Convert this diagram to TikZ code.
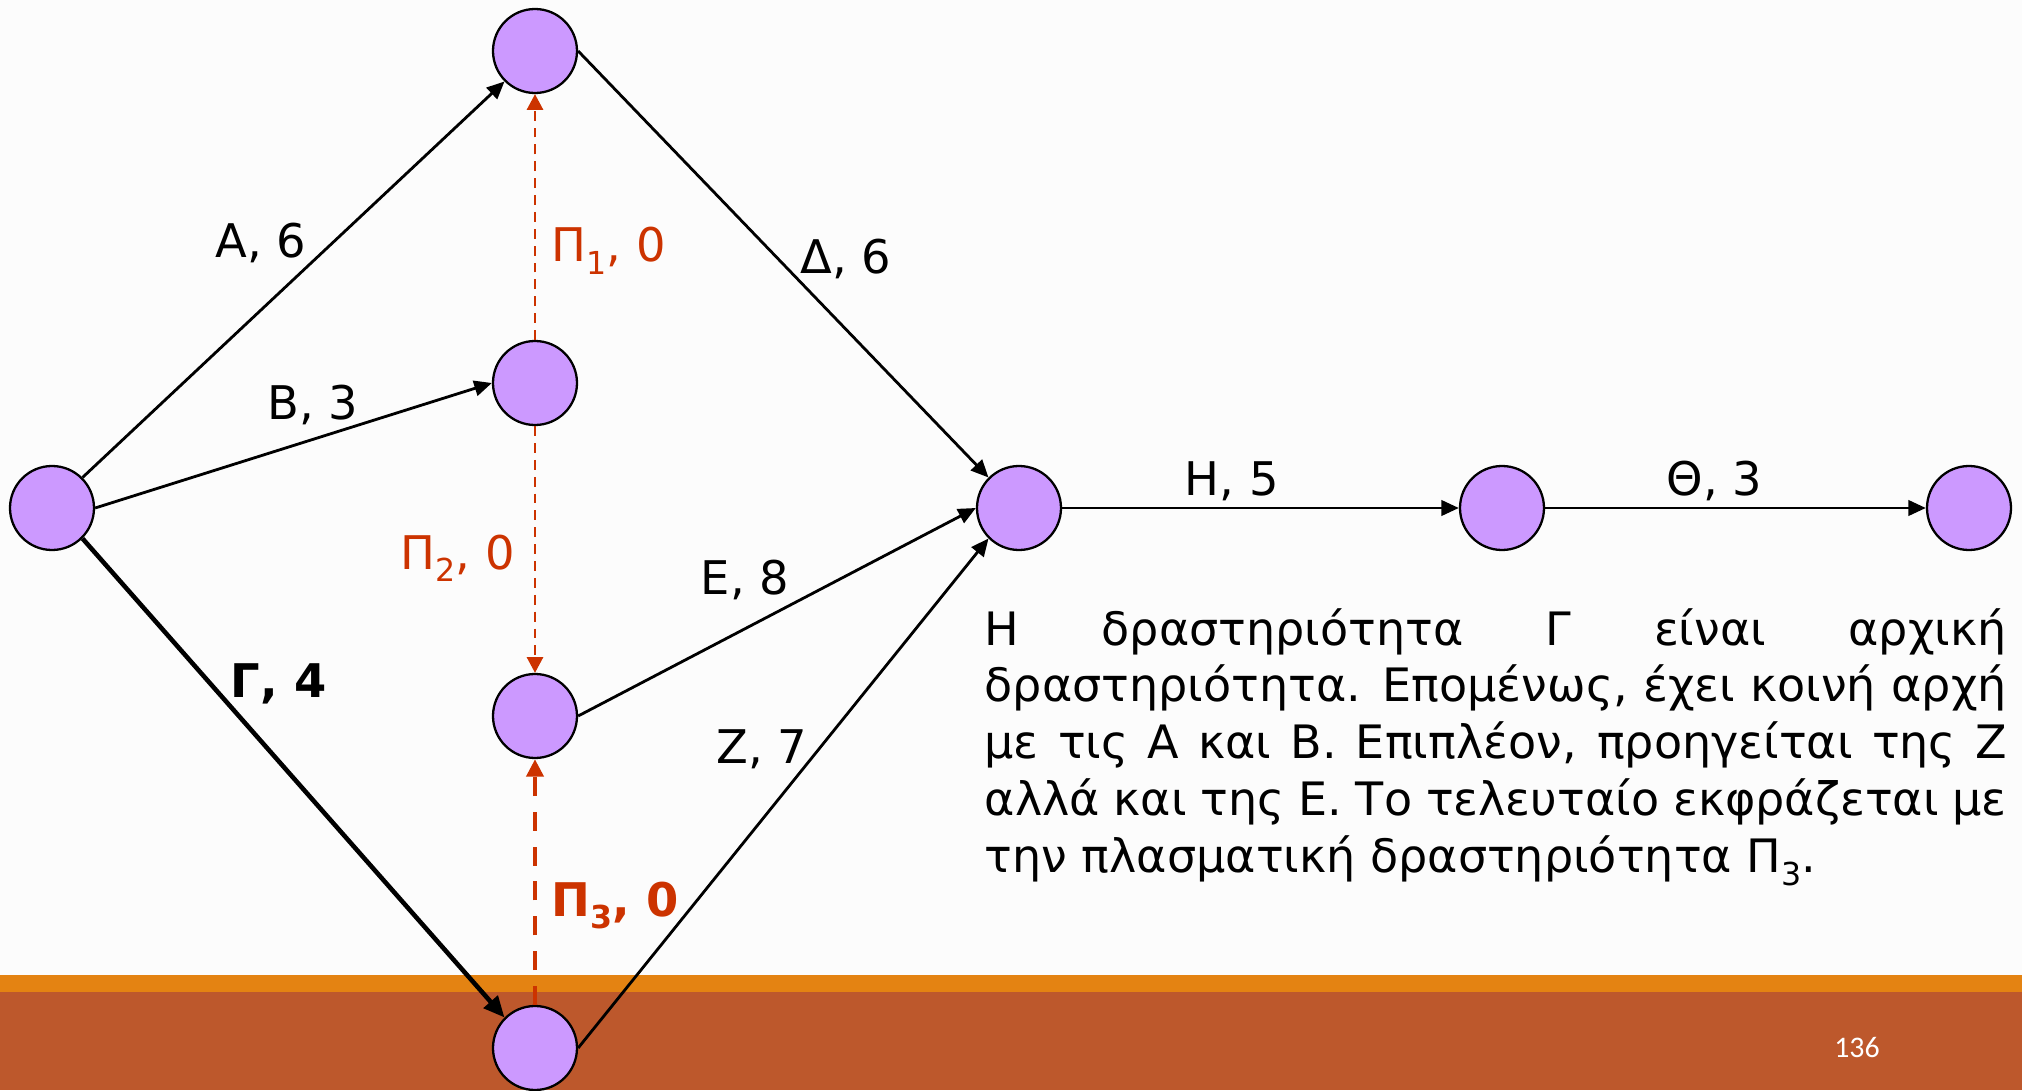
\documentclass[tikz,border=0pt]{standalone}
\usepackage{fontspec}
\setmainfont{DejaVu Sans}
\newfontfamily\pagefont{Carlito}
\usetikzlibrary{arrows.meta}
\definecolor{evfill}{HTML}{CC99FF}
\definecolor{dummyred}{HTML}{CC3300}
\definecolor{bandtop}{HTML}{E48312}
\definecolor{bandbot}{HTML}{BD582C}
\definecolor{slidebg}{HTML}{FCFCFC}
\newcommand\subtxt[1]{\raisebox{-3.5pt}{\fontsize{9}{9}\selectfont#1}}

\begin{document}
\begin{tikzpicture}[
  event/.style={circle, draw=black, line width=0.65pt, fill=evfill, minimum size=0.84cm, inner sep=0pt},
  act/.style={line width=0.8pt, -{Triangle[length=5pt,width=4.4pt]}},
  crit/.style={line width=1.3pt, -{Triangle[length=6pt,width=5.2pt]}},
  dummy/.style={draw=dummyred, line width=0.7pt, dash pattern=on 2.8pt off 2pt, -{Triangle[length=4.5pt,width=4.6pt]}},
  dummybold/.style={draw=dummyred, line width=1.3pt, dash pattern=on 5.4pt off 4.5pt, -{Triangle[length=5pt,width=4.8pt]}},
  lbl/.style={anchor=base west, inner sep=0pt, font=\fontsize{13.2}{15}\selectfont},
  lblbold/.style={lbl, font=\fontsize{13.2}{15}\selectfont\bfseries},
]
  \useasboundingbox (0,0) rectangle (20.22,10.90);
  \fill[slidebg] (0,0) rectangle (20.22,10.90);
  \fill[bandbot] (0,0) rectangle (20.22,0.98);
  \fill[bandtop] (0,0.98) rectangle (20.22,1.15);
  \node[text=white, font=\pagefont\fontsize{8.5}{10}\selectfont] (pgno) at (18.57,0.42) {136};

  \foreach \n/\x/\y in {ev1/0.52/5.82, ev2/5.35/10.39, ev3/5.35/7.07, ev4/5.35/3.74,
                        ev5/5.35/0.42, ev6/10.19/5.82, ev7/15.02/5.82, ev8/19.69/5.82}
    \node[event] (\n) at (\x,\y) {};

  \draw[act] (ev1.north east) -- (ev2.south west);
  \draw[act] (ev1.east) -- (ev3.west);
  \draw[crit] (ev1.south east) -- (ev5.north west);
  \draw[act] (ev2.east) -- (ev6.north west);
  \draw[act] (ev4.east) -- (ev6.west);
  \draw[act] (ev5.east) -- (ev6.south west);
  \draw[act] (ev6.east) -- (ev7.west);
  \draw[act] (ev7.east) -- (ev8.west);
  \draw[dummy] (ev3.north) -- (ev2.south);
  \draw[dummy] (ev3.south) -- (ev4.north);
  \draw[dummybold] (ev5.north) -- (ev4.south);

  \node[lbl] (lA) at (2.15,8.33) {Α, 6};
  \node[lbl] (lB) at (2.67,6.71) {Β, 3};
  \node[lblbold] (lG) at (2.30,3.93) {Γ, 4};
  \node[lbl] (lD) at (8.00,8.17) {Δ, 6};
  \node[lbl] (lE) at (7.00,4.96) {Ε, 8};
  \node[lbl] (lZ) at (7.16,3.27) {Ζ, 7};
  \node[lbl] (lH) at (11.84,5.95) {Η, 5};
  \node[lbl] (lTh) at (16.66,5.95) {Θ, 3};
  \node[lbl, text=dummyred] (lP1) at (5.51,8.28) {Π\subtxt{1}, 0};
  \node[lbl, text=dummyred] (lP2) at (4.00,5.21) {Π\subtxt{2}, 0};
  \node[lblbold, text=dummyred] (lP3) at (5.51,1.74) {Π\subtxt{\bfseries 3}, 0};

  \node[anchor=base west, inner sep=0pt, text width=10.22cm, align=justify,
        font=\fontsize{13.1}{16.2}\selectfont] (note) at (9.84,4.45)
    {\hyphenpenalty=10000 Η δραστηριότητα Γ είναι αρχική\linebreak
     δραστηριότητα. Επομένως, έχει κοινή αρχή\linebreak
     με τις Α και Β. Επιπλέον, προηγείται της Ζ\linebreak
     αλλά και της Ε. Το τελευταίο εκφράζεται με\linebreak
     την πλασματική δραστηριότητα Π\subtxt{3}.};
\end{tikzpicture}
\end{document}
